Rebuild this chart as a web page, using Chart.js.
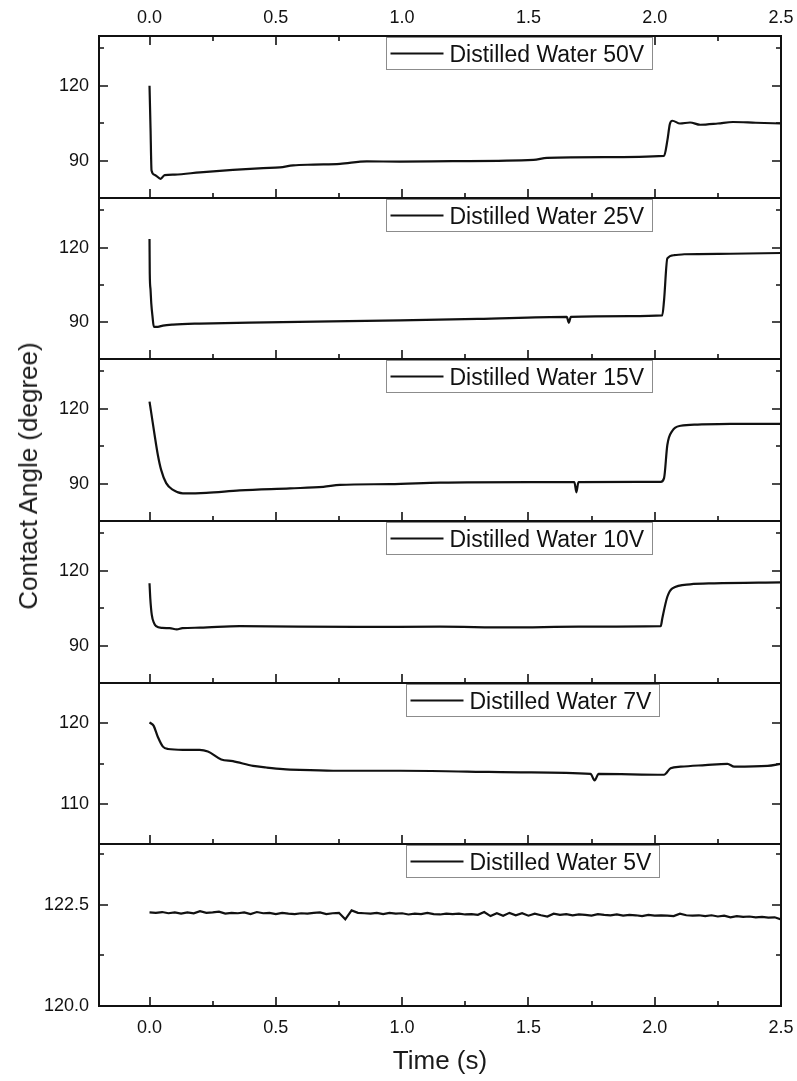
<!DOCTYPE html>
<html>
<head>
<meta charset="utf-8">
<title>Contact angle vs time</title>
<script src="https://cdn.jsdelivr.net/npm/chart.js@4.4.1/dist/chart.umd.min.js"></script>
<style>
  body { margin: 0; background: #fff; }
  #figure {
    position: relative; width: 797px; height: 1081px; overflow: hidden;
    font-family: "Liberation Sans", Arial, sans-serif; color: #1a1a1a;
  }
  #figure canvas { position: absolute; left: 0; }
  .axis-title { position: absolute; font-size: 26px; white-space: nowrap; line-height: 30px; }
  #xTitle { left: 440px; top: 1045px; transform: translateX(-50%); }
  #yTitle { left: 28px; top: 476px; transform: translate(-50%, -50%) rotate(-90deg); }
</style>
</head>
<body>
<div id="figure">
  <canvas id="panel50V"></canvas>
  <canvas id="panel25V"></canvas>
  <canvas id="panel15V"></canvas>
  <canvas id="panel10V"></canvas>
  <canvas id="panel7V"></canvas>
  <canvas id="panel5V"></canvas>
  <div class="axis-title" id="yTitle">Contact Angle (degree)</div>
  <div class="axis-title" id="xTitle">Time (s)</div>
</div>
<script>
// time (s) and contact angle (degree) for each applied voltage
const time50V = [0, 0.004, 0.008, 0.02, 0.044, 0.06, 0.1, 0.2, 0.33, 0.45, 0.516, 0.569, 0.65, 0.754, 0.86, 0.99,
    1.2, 1.52, 1.574, 1.8, 2.037, 2.05, 2.06, 2.07, 2.10, 2.14, 2.18, 2.25, 2.31, 2.4, 2.5];
const angle50V = [120, 103, 86, 84.3, 82.7, 84.2, 84.4, 85.3, 86.3, 87.0, 87.3, 88.1, 88.4, 88.7, 89.7, 89.6,
    89.8, 90.3, 91.1, 91.4, 91.9, 98, 104.7, 106, 104.9, 105.3, 104.4, 104.9, 105.5, 105.2, 104.9];

const time25V = [0, 0.001, 0.004, 0.007, 0.012, 0.017, 0.033, 0.053, 0.093, 0.198, 0.463, 0.992, 1.3, 1.652,
    1.66, 1.668, 1.9, 2.03, 2.037, 2.05, 2.077, 2.117, 2.3, 2.5];
const angle25V = [123.4, 109.5, 103, 97.4, 92, 88, 88, 88.5, 88.9, 89.3, 89.8, 90.6, 91.2, 92.0,
    89.6, 92.0, 92.3, 92.6, 98.7, 115.6, 116.9, 117.3, 117.5, 117.8];

const time15V = [0, 0.007, 0.02, 0.033, 0.046, 0.066, 0.093, 0.132, 0.225, 0.357, 0.556, 0.688, 0.754, 0.952,
    1.151, 1.508, 1.682, 1.69, 1.698, 2.024, 2.037, 2.05, 2.07, 2.103, 2.17, 2.3, 2.5];
const angle15V = [122.9, 118.3, 109.6, 101.5, 95.5, 90.2, 87.5, 86.1, 86.3, 87.3, 88.1, 88.7, 89.5, 89.8,
    90.4, 90.6, 90.6, 86.5, 90.6, 90.7, 92.2, 105.5, 111.2, 113.2, 113.7, 114, 114];

const time10V = [0, 0.003, 0.009, 0.018, 0.026, 0.05, 0.08, 0.108, 0.13, 0.2, 0.357, 0.82, 1.15, 1.42, 1.7,
    2.024, 2.03, 2.05, 2.07, 2.14, 2.235, 2.5];
const angle10V = [115.0, 109, 102.3, 99, 97.8, 97.1, 97.0, 96.5, 97.0, 97.2, 97.8, 97.5, 97.6, 97.3, 97.6,
    97.8, 100.9, 109.6, 113.0, 114.6, 115.0, 115.4];

const time7V = [0, 0.005, 0.016, 0.033, 0.053, 0.073, 0.132, 0.198, 0.231, 0.284, 0.33, 0.41, 0.463, 0.529,
    0.595, 0.727, 0.992, 1.257, 1.5, 1.746, 1.762, 1.778, 2.037, 2.063, 2.103, 2.2, 2.288, 2.315, 2.447, 2.5];
const angle7V = [120.1, 120.0, 119.7, 118.3, 117.1, 116.8, 116.7, 116.7, 116.5, 115.5, 115.3, 114.7, 114.5, 114.3,
    114.2, 114.1, 114.1, 114.0, 113.9, 113.7, 112.9, 113.7, 113.6, 114.4, 114.6, 114.8, 114.96, 114.6, 114.7, 114.96];

const time5V = [0, 0.025, 0.05, 0.075, 0.1, 0.125, 0.15, 0.175, 0.2, 0.225, 0.25, 0.275, 0.3, 0.325, 0.35, 0.375,
    0.4, 0.425, 0.45, 0.475, 0.5, 0.525, 0.55, 0.575, 0.6, 0.625, 0.65, 0.675, 0.7, 0.725, 0.75, 0.775,
    0.8, 0.825, 0.85, 0.875, 0.9, 0.925, 0.95, 0.975, 1.0, 1.025, 1.05, 1.075, 1.1, 1.125, 1.15, 1.175,
    1.2, 1.225, 1.25, 1.275, 1.3, 1.325, 1.35, 1.375, 1.4, 1.425, 1.45, 1.475, 1.5, 1.525, 1.55, 1.575,
    1.6, 1.625, 1.65, 1.675, 1.7, 1.725, 1.75, 1.775, 1.8, 1.825, 1.85, 1.875, 1.9, 1.925, 1.95, 1.975,
    2.0, 2.025, 2.05, 2.075, 2.1, 2.125, 2.15, 2.175, 2.2, 2.225, 2.25, 2.275, 2.3, 2.325, 2.35, 2.375,
    2.4, 2.425, 2.45, 2.475, 2.5];
const angle5V = [122.31, 122.30, 122.32, 122.29, 122.31, 122.28, 122.31, 122.29, 122.34, 122.30, 122.31, 122.33,
    122.28, 122.30, 122.29, 122.31, 122.27, 122.32, 122.29, 122.30, 122.27, 122.30, 122.28, 122.27,
    122.29, 122.28, 122.30, 122.31, 122.27, 122.29, 122.30, 122.14, 122.36, 122.30, 122.29, 122.28,
    122.30, 122.27, 122.30, 122.28, 122.29, 122.26, 122.28, 122.27, 122.30, 122.27, 122.26, 122.28,
    122.27, 122.28, 122.26, 122.27, 122.25, 122.32, 122.22, 122.29, 122.23, 122.30, 122.24, 122.29,
    122.23, 122.28, 122.24, 122.21, 122.28, 122.25, 122.27, 122.24, 122.26, 122.25, 122.23, 122.27,
    122.25, 122.24, 122.26, 122.23, 122.25, 122.24, 122.22, 122.25, 122.23, 122.24, 122.23, 122.22,
    122.28, 122.24, 122.23, 122.24, 122.22, 122.24, 122.21, 122.23, 122.19, 122.22, 122.20, 122.21,
    122.19, 122.20, 122.18, 122.19, 122.14];

// figure geometry: plot area left/right and the horizontal edges between panels
const PLOT_LEFT = 99;
const PLOT_RIGHT = 781;
const FIG_W = 797;
const FIG_H = 1081;
const EDGES = [36, 198, 359, 521, 683, 844, 1006];
const EDGE_PAD = 12;
const INK = '#111';
const FONT = '"Liberation Sans", Arial, sans-serif';

Chart.defaults.font.family = FONT;
Chart.defaults.color = INK;

function isMajor(v, step) {
    const r = v / step;
    return Math.abs(r - Math.round(r)) < 1e-6;
}

// scales keep their label overflow out of the layout, so every panel lines up
function noOverflow(s) {
    s.paddingTop = 0;
    s.paddingBottom = 0;
    s.paddingLeft = 0;
    s.paddingRight = 0;
}

// box, inward ticks on all sides and the single-entry legend of a panel
const panelFrame = {
    id: 'panelFrame',
    afterDatasetsDraw(chart, args, opts) {
        const { ctx, chartArea: a } = chart;
        const xs = chart.scales.x;
        const ys = chart.scales.y;
        ctx.save();
        ctx.strokeStyle = INK;
        ctx.lineWidth = 1.6;
        ctx.beginPath();
        ys.ticks.forEach(t => {
            const py = Math.round(ys.getPixelForValue(t.value));
            if (py <= a.top + 1 || py >= a.bottom - 1) return;
            const len = isMajor(t.value, opts.majorStep) ? 9 : 5;
            ctx.moveTo(a.left, py); ctx.lineTo(a.left + len, py);
            ctx.moveTo(a.right, py); ctx.lineTo(a.right - len, py);
        });
        xs.ticks.forEach(t => {
            const px = Math.round(xs.getPixelForValue(t.value));
            if (px <= a.left + 1 || px >= a.right - 1) return;
            const len = isMajor(t.value, 0.5) ? 9 : 5;
            ctx.moveTo(px, a.bottom); ctx.lineTo(px, a.bottom - len);
            if (opts.topTicks) {
                ctx.moveTo(px, a.top); ctx.lineTo(px, a.top + len);
            }
        });
        ctx.stroke();
        ctx.lineWidth = 2;
        ctx.strokeRect(a.left, a.top, a.right - a.left, a.bottom - a.top);

        const label = chart.data.datasets[0].label;
        ctx.font = '23px ' + FONT;
        const textW = ctx.measureText(label).width;
        const boxL = opts.legendLeft;
        const boxT = a.top + 1.5;
        const boxW = Math.round(63 + textW + 8);
        const boxH = 32;
        ctx.fillStyle = '#fff';
        ctx.fillRect(boxL, boxT, boxW, boxH);
        ctx.lineWidth = 1;
        ctx.strokeStyle = '#8c8c8c';
        ctx.strokeRect(boxL, boxT, boxW, boxH);
        ctx.lineWidth = 2;
        ctx.strokeStyle = '#111';
        ctx.beginPath();
        ctx.moveTo(boxL + 4, boxT + 16);
        ctx.lineTo(boxL + 57, boxT + 16);
        ctx.stroke();
        ctx.fillStyle = '#111';
        ctx.textBaseline = 'alphabetic';
        ctx.textAlign = 'left';
        ctx.fillText(label, boxL + 63, boxT + 24.5);
        ctx.restore();
    }
};

function createPanel(canvasId, index, spec) {
    const first = index === 0;
    const last = index === EDGES.length - 2;
    const canvas = document.getElementById(canvasId);
    const top = first ? 0 : EDGES[index] - EDGE_PAD;
    const bottom = last ? FIG_H : EDGES[index + 1] + EDGE_PAD;
    canvas.width = FIG_W;
    canvas.height = bottom - top;
    canvas.style.top = top + 'px';

    const tickFont = { size: 18 };
    const hiddenGrid = { display: false, drawTicks: false, tickLength: 0 };
    const scales = {
        x: {
            type: 'linear', position: 'bottom', min: -0.2, max: 2.5,
            grid: hiddenGrid, border: { display: false },
            ticks: {
                display: last, stepSize: 0.25, includeBounds: false, autoSkip: false,
                maxRotation: 0, minRotation: 0, padding: 11, font: tickFont, color: INK,
                callback: v => isMajor(v, 0.5) ? v.toFixed(1) : ''
            },
            afterFit: s => {
                s.height = last ? FIG_H - EDGES[EDGES.length - 1] : 0;
                noOverflow(s);
            }
        },
        y: {
            min: spec.yMin, max: spec.yMax,
            grid: hiddenGrid, border: { display: false },
            ticks: {
                stepSize: spec.minorStep, includeBounds: false, autoSkip: false,
                padding: 10, font: tickFont, color: INK,
                callback: v => isMajor(v, spec.majorStep) ? v.toFixed(spec.decimals) : ''
            },
            afterFit: s => {
                s.width = PLOT_LEFT;
                noOverflow(s);
            }
        }
    };
    if (first) {
        scales.x2 = {
            type: 'linear', position: 'top', min: -0.2, max: 2.5,
            grid: hiddenGrid, border: { display: false },
            ticks: {
                stepSize: 0.25, includeBounds: false, autoSkip: false,
                maxRotation: 0, minRotation: 0, padding: 7, font: tickFont, color: INK,
                callback: v => isMajor(v, 0.5) ? v.toFixed(1) : ''
            },
            afterFit: s => {
                s.height = EDGES[0];
                noOverflow(s);
            }
        };
    }

    return new Chart(canvas.getContext('2d'), {
        type: 'line',
        data: {
            datasets: [{
                label: spec.label,
                data: spec.times.map((t, i) => ({ x: t, y: spec.angles[i] })),
                xAxisID: 'x',
                yAxisID: 'y',
                borderColor: '#111',
                borderWidth: 2.2,
                pointRadius: 0,
                tension: spec.smooth ? 0.4 : 0,
                cubicInterpolationMode: spec.smooth ? 'monotone' : 'default'
            }]
        },
        options: {
            responsive: false,
            animation: false,
            devicePixelRatio: 1,
            layout: {
                padding: {
                    left: 0,
                    right: FIG_W - PLOT_RIGHT,
                    top: first ? 0 : EDGE_PAD,
                    bottom: last ? 0 : EDGE_PAD
                }
            },
            scales: scales,
            plugins: {
                legend: { display: false },
                tooltip: { enabled: false },
                panelFrame: {
                    majorStep: spec.majorStep,
                    topTicks: first,
                    legendLeft: spec.legendLeft
                }
            }
        },
        plugins: [panelFrame]
    });
}

createPanel('panel50V', 0, { label: 'Distilled Water 50V', times: time50V, angles: angle50V,
    yMin: 75, yMax: 140, minorStep: 15, majorStep: 30, decimals: 0, legendLeft: 386.5, smooth: true });
createPanel('panel25V', 1, { label: 'Distilled Water 25V', times: time25V, angles: angle25V,
    yMin: 75, yMax: 140, minorStep: 15, majorStep: 30, decimals: 0, legendLeft: 386.5, smooth: true });
createPanel('panel15V', 2, { label: 'Distilled Water 15V', times: time15V, angles: angle15V,
    yMin: 75, yMax: 140, minorStep: 15, majorStep: 30, decimals: 0, legendLeft: 386.5, smooth: true });
createPanel('panel10V', 3, { label: 'Distilled Water 10V', times: time10V, angles: angle10V,
    yMin: 75, yMax: 140, minorStep: 15, majorStep: 30, decimals: 0, legendLeft: 386.5, smooth: true });
createPanel('panel7V', 4, { label: 'Distilled Water 7V', times: time7V, angles: angle7V,
    yMin: 105, yMax: 125, minorStep: 5, majorStep: 10, decimals: 0, legendLeft: 406.5, smooth: true });
createPanel('panel5V', 5, { label: 'Distilled Water 5V', times: time5V, angles: angle5V,
    yMin: 120, yMax: 124, minorStep: 1.25, majorStep: 2.5, decimals: 1, legendLeft: 406.5, smooth: false });
</script>
</body>
</html>
